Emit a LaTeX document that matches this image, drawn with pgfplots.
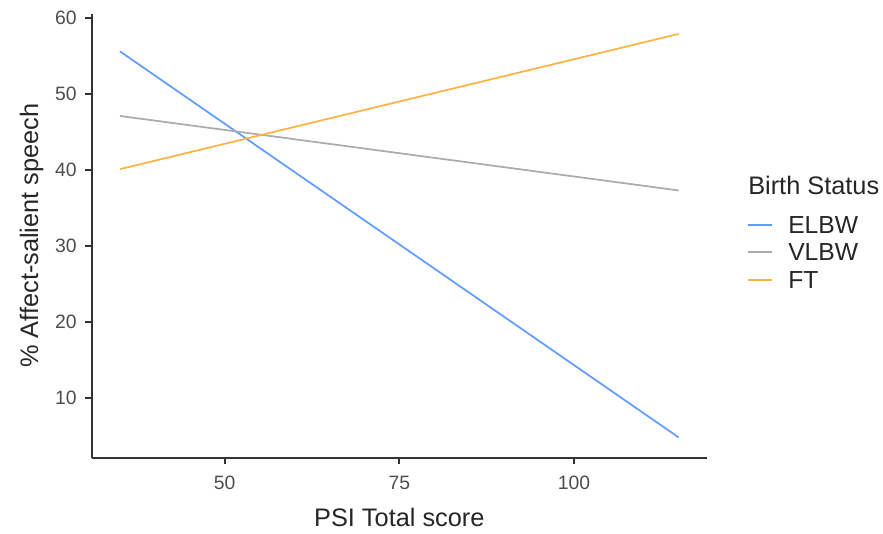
\documentclass[border=0pt]{standalone}
\usepackage{pgfplots}
\pgfplotsset{compat=1.18}
\usepackage{fontspec}
\setmainfont{Liberation Sans}
\definecolor{cELBW}{HTML}{619CFF}
\definecolor{cVLBW}{HTML}{ABABAB}
\definecolor{cFT}{HTML}{FFB347}
\definecolor{tickgray}{HTML}{4D4D4D}
\begin{document}
\begin{tikzpicture}
\useasboundingbox (-69pt,-57pt) rectangle (593.25pt,343.25pt);
\begin{axis}[
  scale only axis,
  width=461pt, height=333pt,
  at={(0,0)}, anchor=south west,
  xmin=31, xmax=119,
  ymin=2.14, ymax=60.56,
  axis lines*=left,
  axis line style={line width=1.3pt, color=black!80},
  xtick={50,75,100}, ytick={10,20,30,40,50,60},
  tick align=outside,
  major tick length=5pt,
  tick style={line width=1.3pt, color=black!80},
  /pgf/number format/assume math mode=true,
  ticklabel style={font=\fontsize{14.5}{16}\selectfont, color=tickgray},
  xticklabel style={yshift=-5.5pt},
  yticklabel style={xshift=-3pt},
  xlabel={PSI Total score},
  ylabel={\% Affect-salient speech},
  label style={font=\fontsize{19}{21}\selectfont, color=black!85},
  xlabel style={yshift=-7pt},
  ylabel style={yshift=2pt},
  clip=false,
]
\addplot[cELBW, line width=1.3pt] coordinates {(35,55.6) (115,4.8)};
\addplot[cVLBW, line width=1.3pt] coordinates {(35,47.1) (115,37.3)};
\addplot[cFT, line width=1.3pt] coordinates {(35,40.1) (115,57.9)};
\end{axis}
\node[anchor=west, inner sep=0pt, font=\fontsize{19}{21}\selectfont, color=black!85] at (492pt,204pt) {Birth Status};
\draw[cELBW, line width=1.3pt] (492pt,174.75pt) -- (510pt,174.75pt);
\draw[cVLBW, line width=1.3pt] (492pt,154.5pt) -- (510pt,154.5pt);
\draw[cFT, line width=1.3pt] (492pt,133.5pt) -- (510pt,133.5pt);
\node[anchor=west, inner sep=0pt, font=\fontsize{18.5}{21}\selectfont, color=black!85] at (522pt,174.75pt) {ELBW};
\node[anchor=west, inner sep=0pt, font=\fontsize{18.5}{21}\selectfont, color=black!85] at (522pt,154.5pt) {VLBW};
\node[anchor=west, inner sep=0pt, font=\fontsize{18.5}{21}\selectfont, color=black!85] at (522pt,133.5pt) {FT};
\end{tikzpicture}
\end{document}
